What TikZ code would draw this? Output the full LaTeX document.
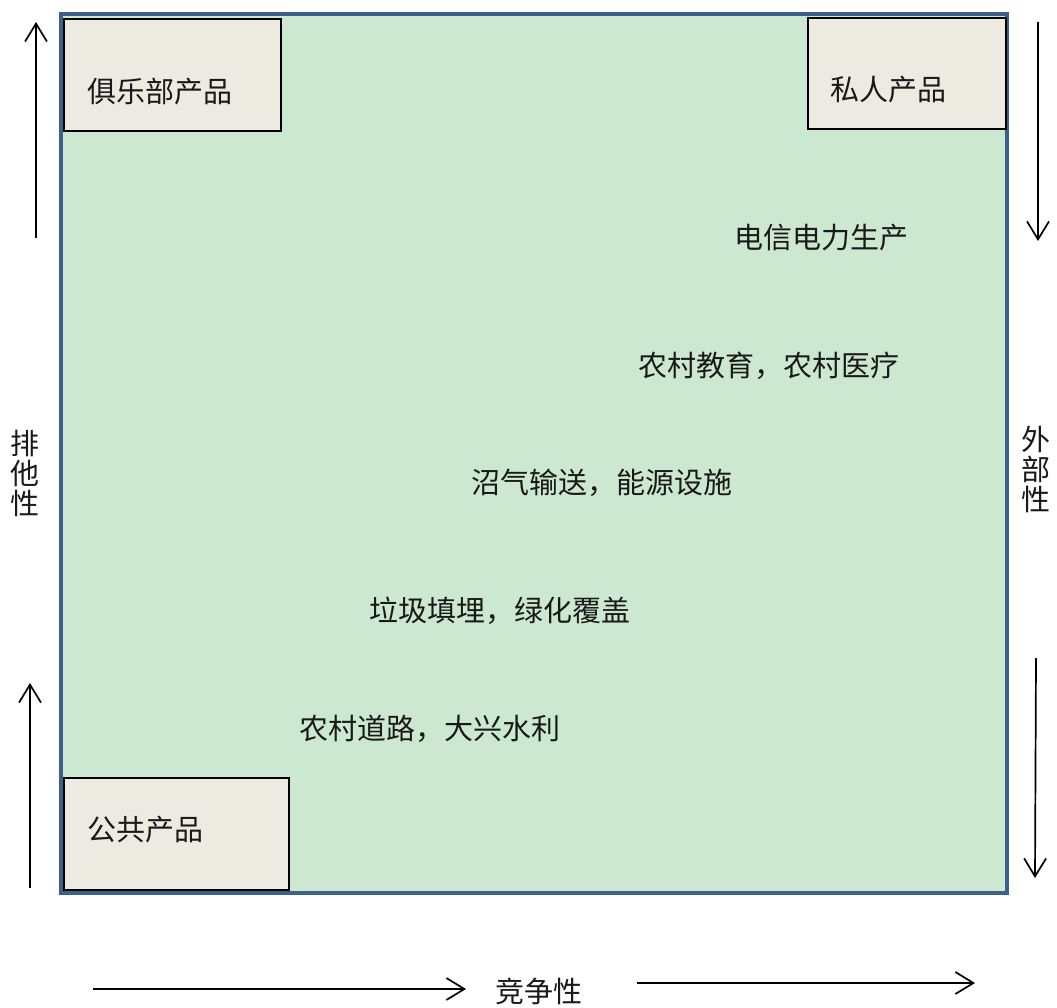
\documentclass[tikz,border=0pt]{standalone}
\usepackage{fontspec}
\newfontfamily\cjk{Noto Sans CJK SC}
\usetikzlibrary{arrows.meta}
\definecolor{panelfill}{HTML}{CDE8D1}
\definecolor{panelline}{HTML}{3D5F8C}
\definecolor{boxfill}{HTML}{EDEBE1}
\tikzset{
  panel/.style={draw=panelline, line width=4.5pt, fill=panelfill},
  cbox/.style={draw=black, line width=2pt, fill=boxfill},
  lbl/.style={font=\cjk\fontsize{29}{30}\selectfont, inner sep=0pt, anchor=west, text=black!90},
  vlbl/.style={font=\cjk\fontsize{29}{30}\selectfont, inner sep=0pt, align=center, text=black!90},
  axarrow/.style={line width=1.7pt, -{Straight Barb[length=18pt,width=22pt,line width=1.7pt]}}
}
\begin{document}
\begin{tikzpicture}[x=1pt,y=-1pt]
\useasboundingbox (0,0) rectangle (1057,1008);
% main panel
\draw[panel] (61,14) rectangle (1007,893);
% corner boxes
\draw[cbox] (64,19) rectangle (281,131);
\draw[cbox] (808,18) rectangle (1006,129);
\draw[cbox] (64,778) rectangle (289,890);
\node[lbl] (club) at (87,92) {俱乐部产品};
\node[lbl] (private) at (830,90) {私人产品};
\node[lbl] (public) at (87,830) {公共产品};
% middle labels
\node[lbl] (t1) at (734,238) {电信电力生产};
\node[lbl] (t2) at (638,366) {农村教育，农村医疗};
\node[lbl] (t3) at (471,483) {沼气输送，能源设施};
\node[lbl] (t4) at (369,611) {垃圾填埋，绿化覆盖};
\node[lbl] (t5) at (299,729) {农村道路，大兴水利};
% axis labels
\node[vlbl] (excl) at (25,473) {排\\他\\性};
\node[vlbl] (ext) at (1036,469) {外\\部\\性};
\node[lbl, anchor=center] (comp) at (539,991) {竞争性};
% arrows
\coordinate (la1) at (36,238); \coordinate (la2) at (36,22);
\coordinate (lb1) at (30,888); \coordinate (lb2) at (30,683);
\coordinate (ra1) at (1038,22); \coordinate (ra2) at (1038,241);
\coordinate (rb1) at (1036,658); \coordinate (rb2) at (1035,878);
\coordinate (ba1) at (93,989); \coordinate (ba2) at (466,989);
\coordinate (bb1) at (637,983); \coordinate (bb2) at (975,983);
\draw[axarrow] (la1) -- (la2);
\draw[axarrow] (lb1) -- (lb2);
\draw[axarrow] (ra1) -- (ra2);
\draw[axarrow] (rb1) -- (rb2);
\draw[axarrow] (ba1) -- (ba2);
\draw[axarrow] (bb1) -- (bb2);
\end{tikzpicture}
\end{document}
